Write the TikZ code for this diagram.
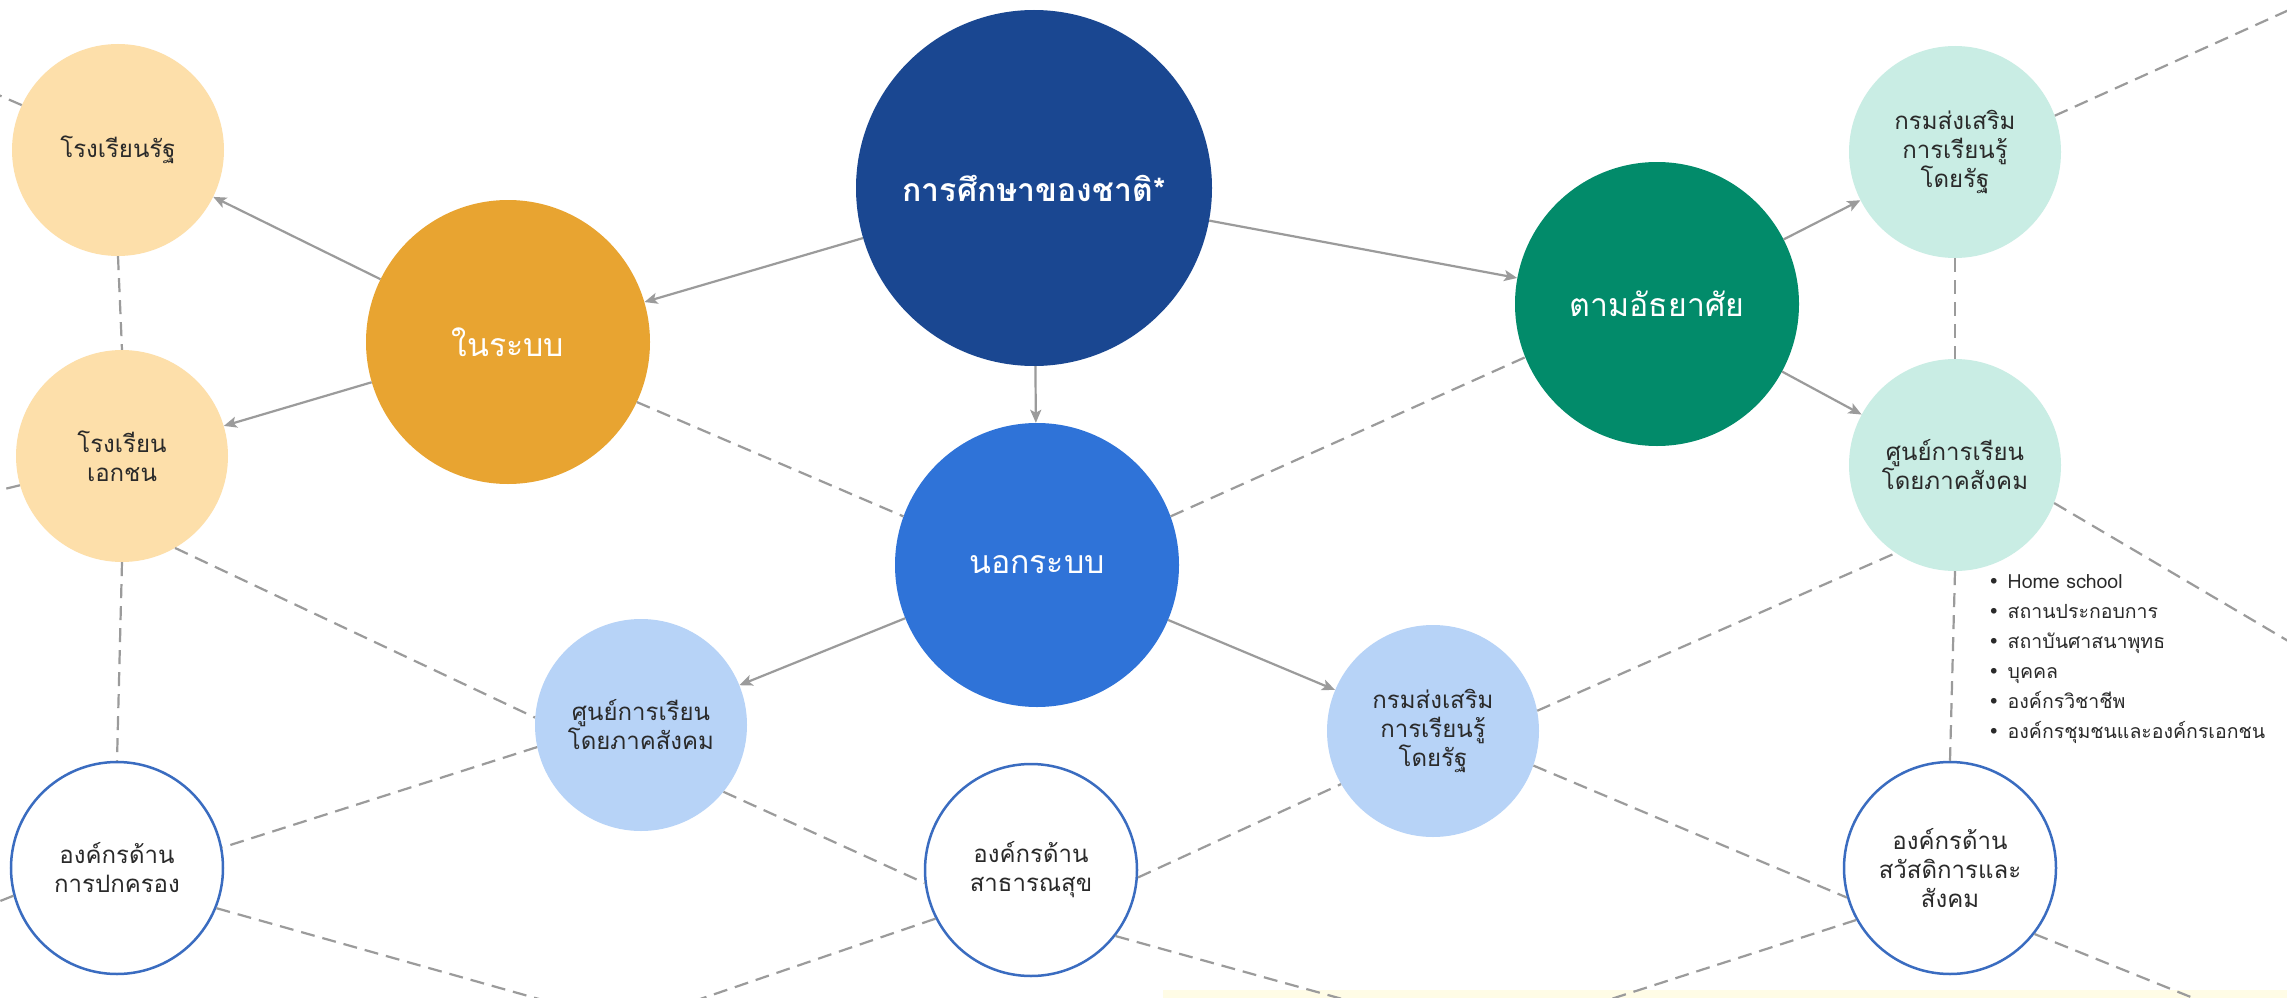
\documentclass[tikz,border=0pt]{standalone}
\usepackage{fontspec}
\setmainfont[Script=Thai]{Loma}
\newfontfamily\dejavu{DejaVu Sans}
\usetikzlibrary{arrows.meta,shapes.geometric}
\definecolor{cdark}{HTML}{1A4791}
\definecolor{cmid}{HTML}{2F73D8}
\definecolor{corange}{HTML}{E8A431}
\definecolor{cpaleor}{HTML}{FDDFAA}
\definecolor{cgreen}{HTML}{028B6A}
\definecolor{cpalegr}{HTML}{C9EDE4}
\definecolor{cpalebl}{HTML}{B7D3F7}
\definecolor{coutl}{HTML}{3A6CC0}
\definecolor{cline}{HTML}{9B9B9B}
\definecolor{ctext}{HTML}{2A2A2A}
\definecolor{cband}{HTML}{FFFCE6}
\tikzset{
  bignode/.style={circle,inner sep=0pt,minimum size=284pt,text=white,align=center,font=\fontsize{32}{38}\selectfont},
  smallnode/.style={circle,inner sep=0pt,minimum size=212pt,text=ctext,align=center,font=\fontsize{24}{29}\selectfont},
  outlnode/.style={smallnode,draw=coutl,line width=2.5pt,fill=white},
  arr/.style={draw=cline,line width=2.2pt,-{Stealth[length=13pt,width=11pt,inset=3pt]}},
  dline/.style={draw=cline,line width=2.2pt,dash pattern=on 14pt off 8pt},
}
\begin{document}
\begin{tikzpicture}[x=1pt,y=-1pt]
\useasboundingbox (0,0) rectangle (2287,998);
\clip (0,0) rectangle (2287,998);
\fill[white] (0,0) rectangle (2287,998);
\fill[cband] (1163,990) rectangle (2287,998);

% nodes
\node[smallnode,fill=cpaleor] (A) at (118,150) {โรงเรียนรัฐ};
\node[smallnode,fill=cpaleor] (B) at (122,456) {โรงเรียน\\เอกชน};
\node[bignode,fill=corange] (C) at (508,342) {ในระบบ};
\node[bignode,fill=cdark,minimum size=356pt,font=\fontsize{32}{38}\selectfont\bfseries] (D) at (1034,188) {การศึกษาของชาติ*};
\node[bignode,fill=cmid] (E) at (1037,565) {นอกระบบ};
\node[bignode,fill=cgreen] (F) at (1657,304) {ตามอัธยาศัย};
\node[smallnode,fill=cpalegr] (G) at (1955,152) {กรมส่งเสริม\\การเรียนรู้\\โดยรัฐ};
\node[smallnode,fill=cpalegr] (H) at (1955,465) {ศูนย์การเรียน\\โดยภาคสังคม};
\node[smallnode,fill=cpalebl] (I) at (641,725) {ศูนย์การเรียน\\โดยภาคสังคม};
\node[smallnode,fill=cpalebl] (J) at (1433,731) {กรมส่งเสริม\\การเรียนรู้\\โดยรัฐ};
\node[outlnode] (K) at (117,868) {องค์กรด้าน\\การปกครอง};
\node[outlnode] (L) at (1031,870) {องค์กรด้าน\\สาธารณสุข};
\node[outlnode] (M) at (1950,868) {องค์กรด้าน\\สวัสดิการและ\\สังคม};

\node[anchor=north west,align=left,text=ctext,font=\fontsize{19.5}{30}\selectfont,inner sep=0pt] (list) at (1988,574)
{{\dejavu•}\hspace{8pt}Home school\\
{\dejavu•}\hspace{8pt}สถานประกอบการ\\
{\dejavu•}\hspace{8pt}สถาบันศาสนาพุทธ\\
{\dejavu•}\hspace{8pt}บุคคล\\
{\dejavu•}\hspace{8pt}องค์กรวิชาชีพ\\
{\dejavu•}\hspace{8pt}องค์กรชุมชนและองค์กรเอกชน};

% free ends
\coordinate (eA) at (-20,87);
\coordinate (eB) at (-20,495);
\coordinate (eK) at (-20,909);
\coordinate (bK) at (578,1010);
\coordinate (bL1) at (668,1010);
\coordinate (bL2) at (1382,1010);
\coordinate (bM1) at (1577,1010);
\coordinate (bM2) at (2223,1010);
\coordinate (rH) at (2300,648);
\coordinate (rG) at (2300,5);

% dashed lattice
\draw[dline] (A.south) -- (B.north);
\draw[dline] (B.south) -- (K.north);
\draw[dline] (G.south) -- (H.north);
\draw[dline] (H.south) -- (M.north);
\draw[dline] (A.155) -- (eA);
\draw[dline] (B.196) -- (eB);
\draw[dline] (K.195) -- (eK);
\draw[dline] (C.-25) -- (E.160);
\draw[dline] (B.-60) -- (I.176);
\draw[dline] (I.192) -- (K.11);
\draw[dline] (I.-39) -- (L.187);
\draw[dline] (K.-22) -- (bK);
\draw[dline] (L.207) -- (bL1);
\draw[dline] (L.-38) -- (bL2);
\draw[dline] (L.-4) -- (J.210);
\draw[dline] (J.11) -- (H.236);
\draw[dline] (J.-19) -- (M.196);
\draw[dline] (M.209) -- (bM1);
\draw[dline] (M.-38) -- (bM2);
\draw[dline] (H.-21) -- (rH);
\draw[dline] (G.20) -- (rG);
\draw[dline] (E.20) -- (F.202);

% arrows
\draw[arr] (D) -- (C);
\draw[arr] (D) -- (E);
\draw[arr] (D) -- (F);
\draw[arr] (C) -- (A);
\draw[arr] (C) -- (B);
\draw[arr] (E) -- (I);
\draw[arr] (E) -- (J);
\draw[arr] (F) -- (G);
\draw[arr] (F) -- (H);
\end{tikzpicture}
\end{document}
